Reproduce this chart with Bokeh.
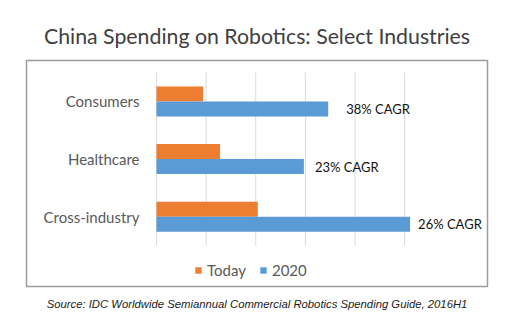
from bokeh.plotting import figure
from bokeh.models import (FactorRange, ColumnDataSource, Legend, LegendItem,
                          Range1d, Title)
from bokeh.transform import dodge
from bokeh.core.properties import value
from bokeh.embed import file_html
from bokeh.resources import INLINE

categories = ["Consumers", "Healthcare", "Cross-industry"]
today = [0.94, 1.28, 2.04]
y2020 = [3.46, 2.97, 5.11]
cagr = ["38% CAGR", "23% CAGR", "26% CAGR"]
series_names = ["Today", "2020"]
x_ticks = [0, 1, 2, 3, 4, 5]
title_text = "China Spending on Robotics: Select Industries"
source_text = "Source: IDC Worldwide Semiannual Commercial Robotics Spending Guide, 2016H1"

ORANGE = "#ED7D31"
BLUE = "#5B9BD5"
FONT = "Lato"
SHIFT = 0.25          # lifts the category band inside the framed box
BAR_H = 0.26
cagr_offsets = [18, 11, 8]   # pixel gap between bar end and its note

p = figure(width=515, height=329,
           y_range=FactorRange(factors=categories[::-1], range_padding=0.3063),
           x_range=Range1d(-2.62, 6.67),
           output_backend="svg", toolbar_location=None,
           min_border_left=26, min_border_right=28,
           min_border_top=60, min_border_bottom=43)
p.background_fill_color = "white"
p.border_fill_color = "white"
p.outline_line_color = "#999CA2"
p.outline_line_width = 1.5
p.xaxis.visible = False
p.yaxis.visible = False
p.xgrid.grid_line_color = None
p.ygrid.grid_line_color = None

# vertical gridlines, limited to the category band
grid_src = ColumnDataSource(dict(t=x_ticks))
p.segment(x0="t", x1="t", y0=SHIFT, y1=len(categories) + SHIFT,
          line_color="#D9D9D9", line_width=1, source=grid_src)

src = ColumnDataSource(dict(cat=categories, today=today, y2020=y2020, lab=cagr,
                            off=cagr_offsets))
r1 = p.hbar(y=dodge("cat", SHIFT + BAR_H / 2, range=p.y_range), left=0, right="today",
            height=BAR_H, fill_color=ORANGE, line_color=None, source=src)
r2 = p.hbar(y=dodge("cat", SHIFT - BAR_H / 2, range=p.y_range), left=0, right="y2020",
            height=BAR_H, fill_color=BLUE, line_color=None, source=src)
p.text(x="y2020", y=dodge("cat", SHIFT - BAR_H / 2, range=p.y_range), text="lab",
       x_offset="off", text_baseline="middle", text_align="left", text_font=value(FONT),
       text_font_size="13px", text_color="#111111", source=src)

# category labels
p.text(x=0, y=dodge("cat", SHIFT, range=p.y_range), text="cat", x_offset=-17,
       text_baseline="middle", text_align="right", text_font=value(FONT),
       text_font_size="15px", text_color="#595959", source=src)

legend = Legend(items=[LegendItem(label=series_names[0], renderers=[r1]),
                       LegendItem(label=series_names[1], renderers=[r2])],
                orientation="horizontal", location=(168, 7),
                border_line_color=None, background_fill_alpha=0,
                padding=0, margin=0, spacing=13, label_standoff=5,
                glyph_width=8, glyph_height=8,
                label_text_font=FONT, label_text_font_size="15px",
                label_text_color="#595959")
p.add_layout(legend)

p.title.text = title_text
p.title.align = "center"
p.title.text_font = FONT
p.title.text_font_size = "21.3px"
p.title.text_font_style = "normal"
p.title.text_color = "#404040"
p.title.standoff = 24

p.add_layout(Title(text=source_text, align="center", text_font="Liberation Sans",
                   text_font_style="italic", text_font_size="11.3px",
                   text_color="#1a1a1a", standoff=18), "below")

open("out.html", "w").write(file_html(p, INLINE))
